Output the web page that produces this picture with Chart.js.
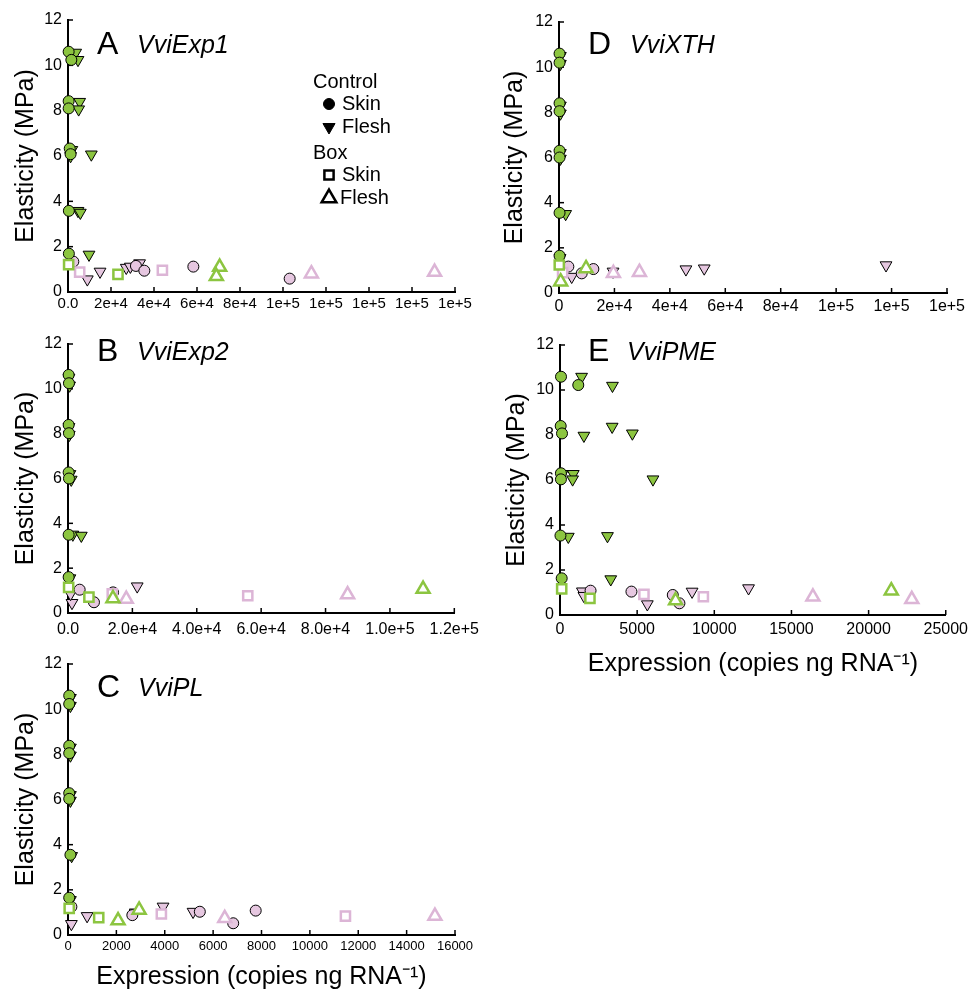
<!DOCTYPE html>
<html>
<head>
<meta charset="utf-8">
<script src="https://cdn.jsdelivr.net/npm/chart.js@4.4.0/dist/chart.umd.min.js"></script>
<style>
html,body{margin:0;padding:0;background:#fff;}
body{width:973px;height:992px;position:relative;overflow:hidden;}
canvas{position:absolute;}
</style>
</head>
<body>
<canvas id="cA" width="486" height="320" style="left:0px;top:0px"></canvas>
<canvas id="cB" width="486" height="320" style="left:0px;top:320px"></canvas>
<canvas id="cC" width="486" height="352" style="left:0px;top:640px"></canvas>
<canvas id="cD" width="493" height="320" style="left:480px;top:0px"></canvas>
<canvas id="cE" width="493" height="365" style="left:480px;top:320px"></canvas>
<script>
// ---------------- DATA (expression, elasticity) ----------------
const yTickLabels = ['0','2','4','6','8','10','12'];
const xTicksA = ['0.0','2e+4','4e+4','6e+4','8e+4','1e+5','1e+5','1e+5','1e+5','1e+5'];
const xTicksB = ['0.0','2.0e+4','4.0e+4','6.0e+4','8.0e+4','1.0e+5','1.2e+5'];
const xTicksC = ['0','2000','4000','6000','8000','10000','12000','14000','16000'];
const xTicksD = ['0','2e+4','4e+4','6e+4','8e+4','1e+5','1e+5','1e+5'];
const xTicksE = ['0','5000','10000','15000','20000','25000'];

// Panel A  VviExp1
const A_ctrlSkinG  = [[300,10.6],[1550,10.24],[300,8.42],[300,8.1],[800,6.33],[1200,6.08],[400,3.58],[400,1.69]];
const A_ctrlFleshG = [[3570,10.56],[4650,10.24],[5430,8.39],[4960,8.06],[1800,6.27],[1200,6.0],[10850,6.07],[4650,3.58],[5740,3.5],[9770,1.65]];
const A_ctrlSkinP  = [[2470,1.34],[31600,1.15],[35500,0.94],[58300,1.12],[103100,0.59]];
const A_ctrlFleshP = [[8990,0.56],[14900,0.9],[27100,1.07],[29000,1.12],[33300,1.27]];
const A_boxSkinG   = [[300,1.21],[23250,0.78]];
const A_boxSkinP   = [[5430,0.88],[43900,0.96]];
const A_boxFleshG  = [[70540,1.1],[69000,0.69]];
const A_boxFleshP  = [[113200,0.81],[170500,0.88]];

// Panel B  VviExp2
const B_ctrlSkinG  = [[200,10.62],[300,10.25],[200,8.39],[300,8.02],[200,6.27],[300,6.0],[200,3.49],[200,1.6]];
const B_ctrlFleshG = [[300,10.5],[500,10.15],[300,8.3],[400,7.95],[600,6.2],[1000,5.95],[1500,3.5],[4140,3.45],[600,1.55]];
const B_ctrlSkinP  = [[3620,1.04],[8070,0.48],[14000,0.92]];
const B_ctrlFleshP = [[1240,0.45],[800,0.85],[21500,1.19]];
const B_boxSkinG   = [[200,1.14],[6500,0.71]];
const B_boxSkinP   = [[13750,0.86],[55840,0.77]];
const B_boxFleshG  = [[13960,0.65],[110300,1.07]];
const B_boxFleshP  = [[18100,0.62],[86860,0.82]];

// Panel C  VviPL
const C_ctrlSkinG  = [[50,10.6],[50,10.23],[50,8.38],[50,8.05],[50,6.28],[50,6.03],[100,3.55],[50,1.65]];
const C_ctrlFleshG = [[100,10.5],[100,10.15],[100,8.3],[100,7.95],[100,6.2],[100,5.95],[150,3.5],[100,1.55]];
const C_ctrlSkinP  = [[140,1.25],[2660,0.88],[5450,1.03],[6830,0.52],[7760,1.08]];
const C_ctrlFleshP = [[140,0.49],[790,0.84],[2780,1.0],[3930,1.26],[5170,1.03]];
const C_boxSkinG   = [[50,1.18],[1270,0.77]];
const C_boxSkinP   = [[3860,0.93],[11470,0.84]];
const C_boxFleshG  = [[2070,0.64],[2940,1.11]];
const C_boxFleshP  = [[6480,0.74],[15170,0.84]];

// Panel D  VviXTH
const D_ctrlSkinG  = [[200,10.6],[200,10.2],[200,8.4],[200,8.05],[200,6.3],[200,6.0],[200,3.55],[200,1.65]];
const D_ctrlFleshG = [[500,10.5],[500,10.15],[500,8.3],[500,7.95],[500,6.2],[500,5.95],[2400,3.5],[400,1.55]];
const D_ctrlSkinP  = [[3370,1.17],[8200,0.87],[12400,1.06]];
const D_ctrlFleshP = [[4580,0.72],[19500,0.95],[45800,1.05],[52400,1.09],[118000,1.23]];
const D_boxSkinG   = [[100,1.24]];
const D_boxSkinP   = [[1300,0.9]];
const D_boxFleshG  = [[600,0.5],[9760,1.09]];
const D_boxFleshP  = [[19630,0.87],[29020,0.92]];

// Panel E  VviPME
const E_ctrlSkinG  = [[65,10.59],[1184,10.22],[45,8.4],[130,8.07],[60,6.3],[60,6.03],[30,3.53],[110,1.63]];
const E_ctrlFleshG = [[1400,10.59],[3400,10.19],[3380,8.37],[4690,8.07],[1550,7.97],[860,6.27],[150,6.27],[818,6.03],[6025,6.03],[538,3.48],[3077,3.51],[3290,1.59]];
const E_ctrlSkinP  = [[1980,1.08],[4630,1.04],[7310,0.89],[7740,0.52]];
const E_ctrlFleshP = [[1450,1.05],[1550,0.85],[5660,0.48],[8560,1.04],[12220,1.19]];
const E_boxSkinG   = [[110,1.16],[1940,0.74]];
const E_boxSkinP   = [[5440,0.92],[9290,0.81]];
const E_boxFleshG  = [[7490,0.64],[21470,1.08]];
const E_boxFleshP  = [[16390,0.81],[22800,0.7]];

// ---------------- STYLES ----------------
const FONT = '"Liberation Sans", Arial, Helvetica, sans-serif';
const GREEN = '#8cc540';
const PINK_FILL = '#e6c7e0';
const PINK_LINE = '#dcb5d6';

const seriesStyles = {
  boxSkinG:   {label:'Box Skin',      pointStyle:'rect',     radius:6.5, bg:'#ffffff', bc:GREEN,     bw:2.5, rot:0,   order:0},
  boxSkinP:   {label:'Box Skin',      pointStyle:'rect',     radius:6.5, bg:'#ffffff', bc:PINK_LINE, bw:2.5, rot:0,   order:1},
  boxFleshG:  {label:'Box Flesh',     pointStyle:'triangle', radius:7.5, bg:'#ffffff', bc:GREEN,     bw:2.5, rot:0,   order:0},
  boxFleshP:  {label:'Box Flesh',     pointStyle:'triangle', radius:7.5, bg:'#ffffff', bc:PINK_LINE, bw:2.5, rot:0,   order:1},
  ctrlSkinG:  {label:'Control Skin',  pointStyle:'circle',   radius:5.5, bg:GREEN,     bc:'#000000', bw:1,   rot:0,   order:2},
  ctrlFleshG: {label:'Control Flesh', pointStyle:'triangle', radius:6.8, bg:GREEN,     bc:'#000000', bw:1,   rot:180, order:2},
  ctrlSkinP:  {label:'Control Skin',  pointStyle:'circle',   radius:5.5, bg:PINK_FILL, bc:'#000000', bw:1,   rot:0,   order:3},
  ctrlFleshP: {label:'Control Flesh', pointStyle:'triangle', radius:6.8, bg:PINK_FILL, bc:'#000000', bw:1,   rot:180, order:3}
};

function makeDatasets(d) {
  return Object.keys(seriesStyles).map(k => {
    const s = seriesStyles[k];
    return {
      label: s.label, data: d[k], order: s.order, clip: false,
      pointStyle: s.pointStyle, pointRadius: s.radius, pointHoverRadius: s.radius,
      pointRotation: s.rot, backgroundColor: s.bg, borderColor: s.bc, borderWidth: s.bw,
      showLine: false
    };
  });
}

const decorPlugin = {
  id: 'decor',
  beforeDatasetsDraw(chart) {
    const {ctx, chartArea} = chart;
    const xs = chart.scales.x, ys = chart.scales.y;
    ctx.save();
    ctx.strokeStyle = '#000'; ctx.lineWidth = 1.5;
    xs.ticks.forEach(t => {
      const px = xs.getPixelForValue(t.value);
      ctx.beginPath(); ctx.moveTo(px, chartArea.bottom); ctx.lineTo(px, chartArea.bottom - 5); ctx.stroke();
    });
    ys.ticks.forEach(t => {
      const py = ys.getPixelForValue(t.value);
      ctx.beginPath(); ctx.moveTo(chartArea.left, py); ctx.lineTo(chartArea.left + 5, py); ctx.stroke();
    });
    ctx.restore();
  },
  afterDraw(chart, args, opts) {
    const {ctx, chartArea} = chart;
    ctx.save();
    ctx.fillStyle = '#000'; ctx.textBaseline = 'middle'; ctx.textAlign = 'left';
    ctx.font = '32px ' + FONT;
    ctx.fillText(opts.letter, chartArea.left + opts.lx, chartArea.top + opts.ly);
    ctx.font = 'italic 25px ' + FONT;
    ctx.fillText(opts.gene, chartArea.left + opts.gx, chartArea.top + opts.ly + 1);
    if (opts.legend) {
      const L = opts.legend;
      ctx.font = '20px ' + FONT;
      const H = Chart.helpers;
      const mark = (style, r, rot, filled, x, y) => {
        ctx.fillStyle = filled ? '#000' : '#fff';
        ctx.strokeStyle = '#000';
        ctx.lineWidth = filled ? 1 : 2.5;
        H.drawPoint(ctx, {pointStyle: style, radius: r, rotation: rot, borderWidth: filled ? 1 : 2.5}, x, y);
      };
      ctx.fillStyle = '#000';
      ctx.fillText('Control', L.x, L.rows[0]);
      mark('circle', 5.5, 0, true, L.mx, L.rows[1]);
      ctx.fillStyle = '#000'; ctx.fillText('Skin', L.tx, L.rows[1]);
      mark('triangle', 7, 180, true, L.mx, L.rows[2]);
      ctx.fillStyle = '#000'; ctx.fillText('Flesh', L.tx, L.rows[2]);
      ctx.fillText('Box', L.x, L.rows[3]);
      mark('rect', 6.5, 0, false, L.mx, L.rows[4]);
      ctx.fillStyle = '#000'; ctx.fillText('Skin', L.tx, L.rows[4]);
      mark('triangle', 8.5, 0, false, L.mx, L.rows[5]);
      ctx.fillStyle = '#000'; ctx.fillText('Flesh', L.tx - 2, L.rows[5]);
    }
    ctx.restore();
  }
};

function buildChart(id, d, p) {
  const xLabels = p.xLabels;
  new Chart(document.getElementById(id), {
    type: 'scatter',
    data: {datasets: makeDatasets(d)},
    plugins: [decorPlugin],
    options: {
      responsive: false, animation: false, devicePixelRatio: 1,
      layout: {padding: {top: p.padTop, right: p.padRight, left: 0, bottom: 0}},
      plugins: {
        legend: {display: false}, tooltip: {enabled: false},
        decor: {letter: p.letter, gene: p.gene, lx: p.lx, ly: p.ly, gx: p.gx, legend: p.legend}
      },
      scales: {
        x: {
          type: 'linear', position: 'bottom', min: 0, max: p.xMax,
          afterFit: s => { s.height = p.xH; },
          border: {display: true, color: '#000', width: 2},
          grid: {display: false, drawTicks: false},
          ticks: {stepSize: p.xStep, autoSkip: false, maxRotation: 0, minRotation: 0,
                  padding: p.xPad, color: '#000', font: {family: FONT, size: p.xFont},
                  callback: (v, i) => xLabels[i]},
          title: p.xTitle ? {display: true, text: p.xTitle, color: '#000',
                  font: {family: FONT, size: 25}, padding: {top: 0, bottom: p.xTitlePad}} : {display: false}
        },
        y: {
          type: 'linear', position: 'left', min: 0, max: 12,
          afterFit: s => { s.width = p.yW; },
          border: {display: true, color: '#000', width: 2},
          grid: {display: false, drawTicks: false},
          ticks: {stepSize: 2, autoSkip: false, padding: 6, color: '#000', font: {family: FONT, size: 16},
                  callback: (v, i) => yTickLabels[i]},
          title: {display: true, text: 'Elasticity (MPa)', color: '#000',
                  font: {family: FONT, size: 25}, padding: {top: p.yTitlePad, bottom: 0}}
        }
      }
    }
  });
}

const X_TITLE = 'Expression (copies ng RNA⁻¹)';

buildChart('cA', {ctrlSkinG:A_ctrlSkinG, ctrlFleshG:A_ctrlFleshG, ctrlSkinP:A_ctrlSkinP, ctrlFleshP:A_ctrlFleshP,
                  boxSkinG:A_boxSkinG, boxSkinP:A_boxSkinP, boxFleshG:A_boxFleshG, boxFleshP:A_boxFleshP},
  {xLabels:xTicksA, xMax:180000, xStep:20000, xFont:15, xPad:3, xH:28, yW:68, padTop:20, padRight:31,
   yTitlePad:11, letter:'A', gene:'VviExp1', lx:29, ly:25, gx:69,
   legend:{x:313, mx:329, tx:342, rows:[82,104,127,153,175,198]}});

buildChart('cB', {ctrlSkinG:B_ctrlSkinG, ctrlFleshG:B_ctrlFleshG, ctrlSkinP:B_ctrlSkinP, ctrlFleshP:B_ctrlFleshP,
                  boxSkinG:B_boxSkinG, boxSkinP:B_boxSkinP, boxFleshG:B_boxFleshG, boxFleshP:B_boxFleshP},
  {xLabels:xTicksB, xMax:120000, xStep:20000, xFont:16, xPad:7, xH:27, yW:68, padTop:24, padRight:31,
   yTitlePad:11, letter:'B', gene:'VviExp2', lx:29, ly:8, gx:69});

buildChart('cC', {ctrlSkinG:C_ctrlSkinG, ctrlFleshG:C_ctrlFleshG, ctrlSkinP:C_ctrlSkinP, ctrlFleshP:C_ctrlFleshP,
                  boxSkinG:C_boxSkinG, boxSkinP:C_boxSkinP, boxFleshG:C_boxFleshG, boxFleshP:C_boxFleshP},
  {xLabels:xTicksC, xMax:16000, xStep:2000, xFont:13, xPad:4, xH:57, yW:68, padTop:24, padRight:31,
   yTitlePad:11, letter:'C', gene:'VviPL', lx:29, ly:24, gx:70, xTitle:X_TITLE, xTitlePad:0});

buildChart('cD', {ctrlSkinG:D_ctrlSkinG, ctrlFleshG:D_ctrlFleshG, ctrlSkinP:D_ctrlSkinP, ctrlFleshP:D_ctrlFleshP,
                  boxSkinG:D_boxSkinG, boxSkinP:D_boxSkinP, boxFleshG:D_boxFleshG, boxFleshP:D_boxFleshP},
  {xLabels:xTicksD, xMax:140000, xStep:20000, xFont:16, xPad:4, xH:27, yW:79, padTop:22, padRight:26,
   yTitlePad:20, letter:'D', gene:'VviXTH', lx:29, ly:23, gx:71});

buildChart('cE', {ctrlSkinG:E_ctrlSkinG, ctrlFleshG:E_ctrlFleshG, ctrlSkinP:E_ctrlSkinP, ctrlFleshP:E_ctrlFleshP,
                  boxSkinG:E_boxSkinG, boxSkinP:E_boxSkinP, boxFleshG:E_boxFleshG, boxFleshP:E_boxFleshP},
  {xLabels:xTicksE, xMax:25000, xStep:5000, xFont:16, xPad:5, xH:70, yW:80, padTop:25, padRight:26,
   yTitlePad:22, letter:'E', gene:'VviPME', lx:28, ly:7, gx:67, xTitle:X_TITLE, xTitlePad:6});
</script>
</body>
</html>
